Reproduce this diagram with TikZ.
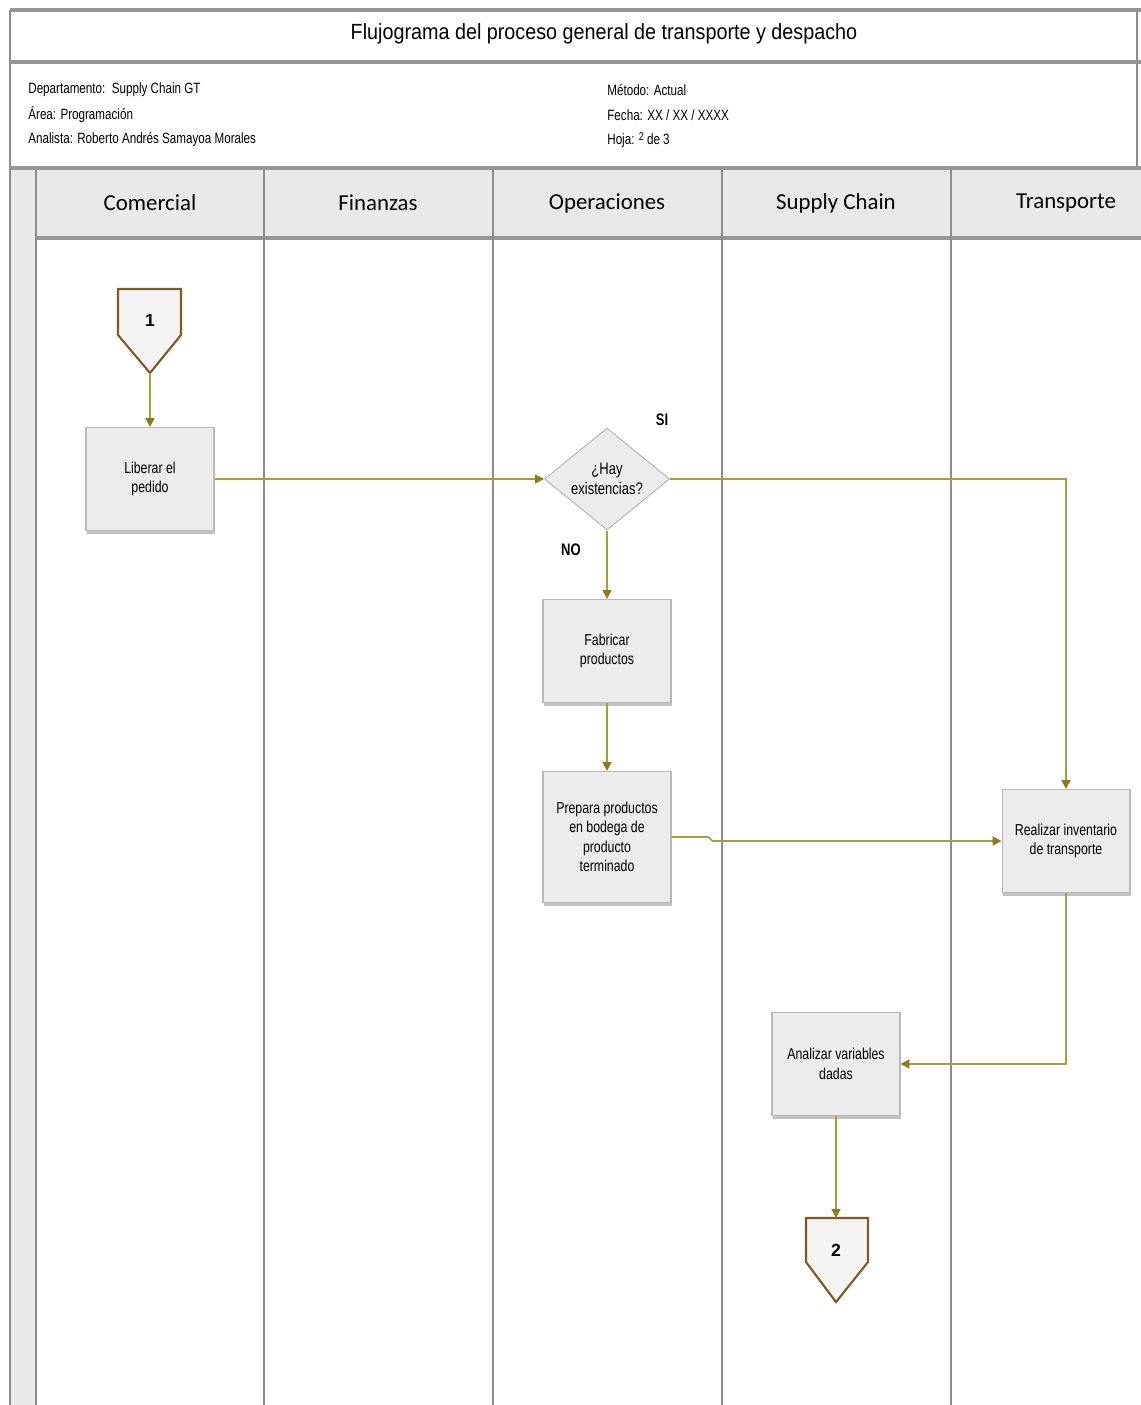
\documentclass[tikz,border=0pt]{standalone}
\usepackage{fontspec}
\setmainfont{Liberation Sans}
\newfontfamily\narrowfont[FakeStretch=0.78]{Liberation Sans}
\newfontfamily\titlefont[FakeStretch=0.9]{Liberation Sans}
\newfontfamily\lanefont{Carlito}
\usetikzlibrary{shapes.geometric,arrows.meta,shadows}
\definecolor{flowline}{RGB}{168,158,62}
\definecolor{arrowhd}{RGB}{140,122,30}
\definecolor{connbrown}{RGB}{122,92,42}
\definecolor{boxfill}{RGB}{236,236,236}
\definecolor{boxdraw}{RGB}{185,185,185}
\definecolor{sepgray}{RGB}{150,150,150}
\definecolor{lanegray}{RGB}{140,140,140}
\definecolor{headfill}{RGB}{233,233,233}
\tikzset{
  procbox/.style={draw=boxdraw, fill=boxfill, line width=0.6pt, minimum width=2.56cm, minimum height=2.06cm,
    align=center, font=\narrowfont\fontsize{9}{11}\selectfont, inner sep=2pt,
    drop shadow={shadow xshift=0.6pt, shadow yshift=-1.8pt, fill=black!40, opacity=0.6}},
  decision/.style={diamond, draw=boxdraw, fill=boxfill, line width=0.6pt, minimum width=2.5cm, minimum height=2.04cm,
    aspect=1.22, inner sep=0pt, align=center, font=\narrowfont\fontsize{9.5}{11}\selectfont},
  conn/.style={draw=connbrown, fill=boxfill!60!white, line width=1.2pt, line join=miter},
  conntext/.style={font=\bfseries\fontsize{10}{12}\selectfont},
  flow/.style={draw=flowline, line width=0.9pt, -{Triangle[length=5pt,width=5pt,fill=arrowhd,color=arrowhd]}},
  sep/.style={draw=sepgray, line width=2.2pt},
  lanediv/.style={draw=lanegray, line width=1.1pt},
  lanehead/.style={font=\lanefont\fontsize{13}{15}\selectfont},
  info/.style={anchor=west, font=\narrowfont\fontsize{8.5}{10}\selectfont, inner sep=0pt},
  decl/.style={font=\narrowfont\bfseries\fontsize{9.5}{11}\selectfont},
}
\begin{document}
\begin{tikzpicture}[x=0.02cm,y=-0.02cm]
\useasboundingbox (0,0) rectangle (1141,1405);
\clip (0,0) rectangle (1141,1405);
% header band of lanes and left strip
\fill[headfill] (36,170) rectangle (1141,238);
\fill[headfill] (10,168) rectangle (36,1405);
% frame
\draw[lanediv] (10,10) -- (10,1405);
\draw[lanediv] (1137,10) -- (1137,168);
\draw[sep] (10,10) -- (1141,10);
\draw[sep] (10,62) -- (1141,62);
\draw[sep] (10,168) -- (1141,168);
\draw[sep] (36,238) -- (1141,238);
% lane dividers
\foreach \xx in {36,264,493,722,951} { \draw[lanediv] (\xx,170) -- (\xx,1405); }
% title
\node[font=\titlefont\fontsize{12.5}{15}\selectfont] (title) at (604,34) {Flujograma del proceso general de transporte y despacho};
% info
\node[info] (dep) at (28,90) {Departamento:\ \ Supply Chain GT};
\node[info] (area) at (28,115) {Área: Programación};
\node[info] (anal) at (28,140) {Analista: Roberto Andrés Samayoa Morales};
\node[info] (met) at (607,90) {Método: Actual};
\node[info] (fec) at (607,115) {Fecha: XX / XX / XXXX};
\node[info] (hoj) at (607,140) {Hoja: \raisebox{0.45ex}{\fontsize{6.5}{7}\selectfont 2} de 3};
% lane headers
\node[lanehead] (lc) at (150,203) {Comercial};
\node[lanehead] (lf) at (378,203) {Finanzas};
\node[lanehead] (lo) at (607,203) {Operaciones};
\node[lanehead] (ls) at (836,203) {Supply Chain};
\node[lanehead] (lt) at (1066,203) {Transporte};
% off-page connector 1
\draw[conn] (118,289) -- (181,289) -- (181,335) -- (150,373) -- (118,335) -- cycle;
\node[conntext] (c1) at (150,320) {1};
\coordinate (c1tip) at (150,373);
% off-page connector 2
\draw[conn] (806,1218) -- (868,1218) -- (868,1262) -- (836,1302) -- (806,1262) -- cycle;
\node[conntext] (c2) at (836,1250) {2};
\coordinate (c2top) at (836,1218);
% process nodes
\node[procbox] (lib) at (150,479) {Liberar el\\pedido};
\node[decision] (hay) at (607,479) {¿Hay\\existencias?};
\node[procbox] (fab) at (607,651) {Fabricar\\productos};
\node[procbox, minimum height=2.62cm] (prep) at (607,837) {Prepara productos\\en bodega de\\producto\\terminado};
\node[procbox] (real) at (1066,841) {Realizar inventario\\de transporte};
\node[procbox] (ana) at (836,1064) {Analizar variables\\dadas};
% decision labels
\node[decl] (si) at (662,420) {SI};
\node[decl] (no) at (571,550) {NO};
% connectors
\draw[flow] (c1tip) -- (lib.north);
\draw[flow] (lib.east) -- (hay.west);
\draw[flow] (hay.east) -- (real.north |- hay.east) -- (real.north);
\draw[flow] (hay.south) -- (fab.north);
\draw[flow] (fab.south) -- (prep.north);
\draw[flow] (prep.east) -- ++(37,0) -- ++(4,4) -- (real.west);
\draw[flow] (real.south) -- (real.south |- ana.east) -- (ana.east);
\draw[flow] (ana.south) -- (c2top);
\end{tikzpicture}
\end{document}
